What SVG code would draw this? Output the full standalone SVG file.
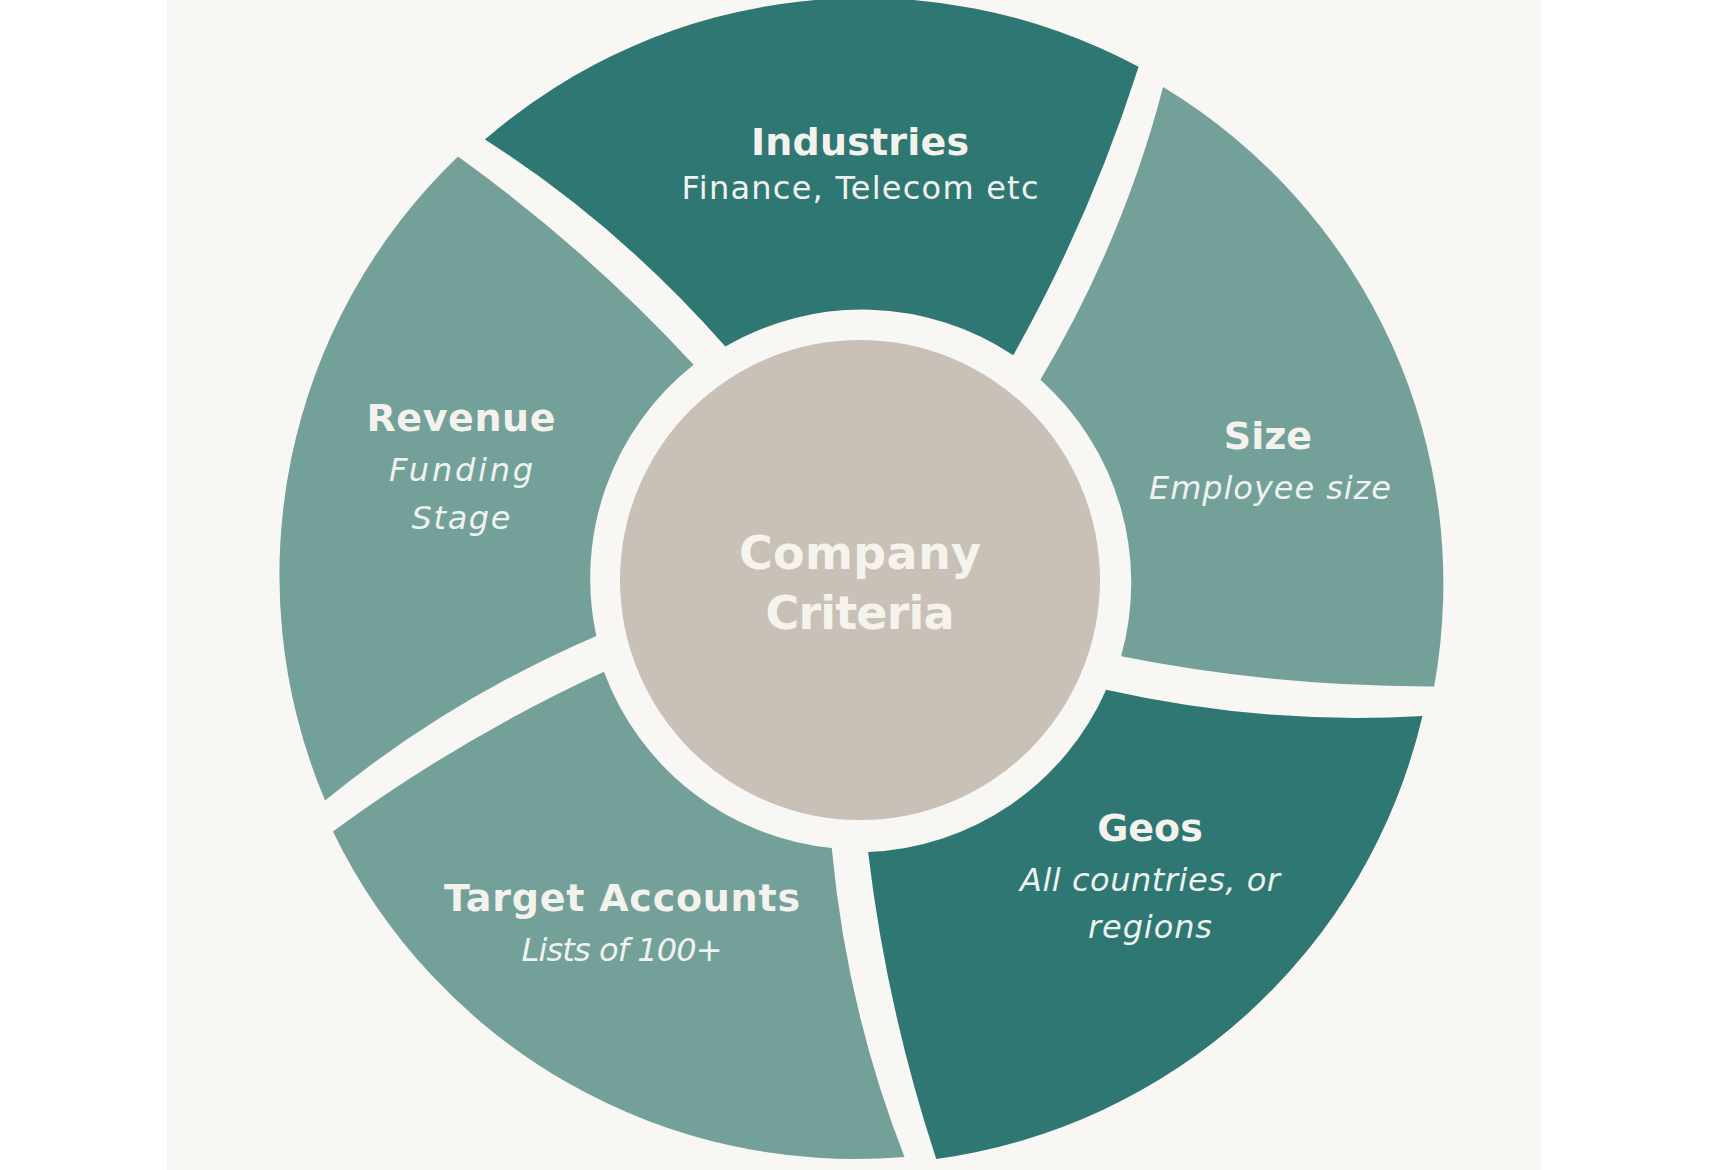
<svg xmlns="http://www.w3.org/2000/svg" xmlns:xlink="http://www.w3.org/1999/xlink" width="1710" height="1170" viewBox="0 0 1710 1170">
  <style>
    .dark { fill: #2f7772; }
    .light { fill: #74a09a; }
    .title { font-family: "DejaVu Sans", "Liberation Sans", sans-serif; font-weight: bold; font-size: 38px; fill: #f4f2ed; text-anchor: middle; }
    .sub { font-family: "DejaVu Sans", "Liberation Sans", sans-serif; font-size: 32px; fill: #eef3ef; text-anchor: middle; }
    .it { font-style: italic; }
    .center { font-family: "DejaVu Sans", "Liberation Sans", sans-serif; font-weight: bold; font-size: 46px; fill: #f6f3ee; text-anchor: middle; }
  </style>
  <defs>
    <path id="seg" d="M 180.4,-200.2 Q 263.15,-339.55 303.1,-492.9 A 580 580 0 0 1 574.2,106.4 Q 415.15,107.05 261.1,76.3 A 272 272 0 0 0 180.4,-200.2 Z"/>
  </defs>
  <rect x="0" y="0" width="1710" height="1170" fill="#ffffff"/>
  <rect x="167" y="0" width="1374" height="1170" fill="#f9f7f4"/>

  <g id="industries">
    <use xlink:href="#seg" href="#seg" class="dark" transform="translate(860,580) rotate(288)"/>
    <text class="title" x="860" y="155" textLength="218">Industries</text>
    <text class="sub" x="860" y="199" textLength="357">Finance, Telecom etc</text>
  </g>
  <g id="size">
    <use xlink:href="#seg" href="#seg" class="light" transform="translate(860,580)"/>
    <text class="title" x="1268" y="449">Size</text>
    <text class="sub it" x="1270" y="499" textLength="242">Employee size</text>
  </g>
  <g id="geos">
    <use xlink:href="#seg" href="#seg" class="dark" transform="translate(860,580) rotate(72)"/>
    <text class="title" x="1150" y="841">Geos</text>
    <text class="sub it" x="1150" y="891" textLength="260">All countries, or</text>
    <text class="sub it" x="1150" y="938" textLength="124">regions</text>
  </g>
  <g id="target-accounts">
    <use xlink:href="#seg" href="#seg" class="light" transform="translate(860,580) rotate(144)"/>
    <text class="title" x="622" y="911" textLength="356">Target Accounts</text>
    <text class="sub it" x="622" y="961" textLength="201">Lists of 100+</text>
  </g>
  <g id="revenue">
    <use xlink:href="#seg" href="#seg" class="light" transform="translate(860,580) rotate(216)"/>
    <text class="title" x="461" y="431" textLength="189">Revenue</text>
    <text class="sub it" x="461" y="481" textLength="144">Funding</text>
    <text class="sub it" x="461" y="529" textLength="99">Stage</text>
  </g>
  <g id="company-criteria">
    <circle cx="860" cy="580" r="240" fill="#c9c1b8"/>
    <text class="center" x="860" y="569" textLength="242">Company</text>
    <text class="center" x="860" y="629" textLength="189">Criteria</text>
  </g>
</svg>
